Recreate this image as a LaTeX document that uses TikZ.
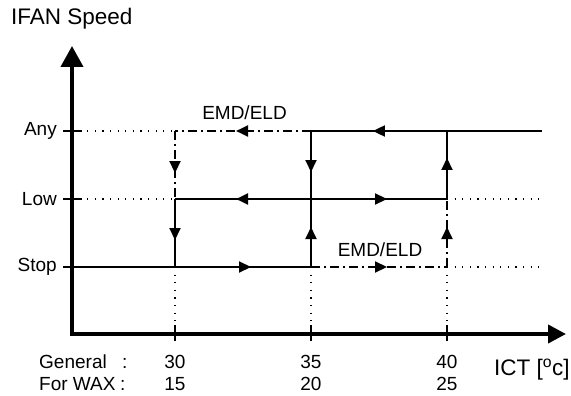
\documentclass[tikz,border=0pt]{standalone}
\usepackage{fontspec}
\setmainfont{Liberation Sans}
\usetikzlibrary{arrows.meta,decorations.markings}
\tikzset{
  lbl/.style={inner sep=0pt, font=\fontsize{19}{21}\selectfont},
  biglbl/.style={inner sep=0pt, font=\fontsize{22.5}{25}\selectfont},
  axisline/.style={line width=4pt, line join=miter},
  graphline/.style={line width=2pt},
  dashdot/.style={line width=2pt, dash pattern=on 9pt off 4pt on 2pt off 4pt},
  dotline/.style={line width=1.1pt, dash pattern=on 1.1pt off 6.5pt},
  tickline/.style={line width=1.3pt},
  arr/.style={postaction={decorate,decoration={markings,
     mark=at position #1 with {\arrow{Triangle[length=12pt,width=11pt]}}}}}
}
\begin{document}
\begin{tikzpicture}[x=1pt,y=-1pt]
\useasboundingbox (0,0) rectangle (571,396);
% key coordinates
\coordinate (o) at (72,334);
\coordinate (ytip) at (72,46);
\coordinate (xtip) at (566,334);
\coordinate (ya) at (72,131);
\coordinate (yl) at (72,199);
\coordinate (ys) at (72,267);
\coordinate (a30) at (175,131);
\coordinate (a35) at (311,131);
\coordinate (a40) at (447,131);
\coordinate (aend) at (542,131);
\coordinate (l30) at (175,199);
\coordinate (l35) at (311,199);
\coordinate (l40) at (447,199);
\coordinate (lend) at (540,199);
\coordinate (s30) at (175,267);
\coordinate (s35) at (311,267);
\coordinate (s40) at (447,267);
\coordinate (send) at (540,267);
\coordinate (x30) at (175,334);
\coordinate (x35) at (311,334);
\coordinate (x40) at (447,334);

% axes
\draw[axisline, {Triangle[length=21pt,width=22pt]}-{Triangle[length=18pt,width=18pt]}] (ytip) -- (o) -- (xtip);

% y ticks
\foreach \c in {ya,yl,ys} \draw[tickline] ([xshift=-9pt]\c) -- ([xshift=10pt]\c);
% x ticks
\foreach \c in {x30,x35,x40} \draw[tickline] ([yshift=-7pt]\c) -- ([yshift=9pt]\c);

% dotted guides
\draw[dotline] (ya) -- (a30);
\draw[dotline] (yl) -- (l30);
\draw[dotline] (l40) -- (lend);
\draw[dotline] (s40) -- (send);
\draw[dotline] (s30) -- (x30);
\draw[dotline] (s35) -- (x35);
\draw[dotline] (s40) -- (x40);

% Any level
\draw[dashdot, arr=0.551] (a35) -- (a30);
\draw[graphline, arr=0.732] (aend) -- (a35);
% Low level
\draw[graphline, arr=0.551] (l35) -- (l30);
\draw[graphline, arr=0.559] (l35) -- (l40);
% Stop level
\draw[graphline, arr=0.749] (ys) -- (s35);
\draw[dashdot, arr=0.559] (s35) -- (s40);
% verticals
\draw[dashdot, arr=0.618] (a30) -- (l30);
\draw[graphline, arr=0.603] (l30) -- (s30);
\draw[graphline, arr=0.603] (a35) -- (l35);
\draw[graphline, arr=0.588] (s35) -- (l35);
\draw[graphline, arr=0.603] (l40) -- (a40);
\draw[dashdot, arr=0.588] (s40) -- (l40);

% labels
\node[biglbl, anchor=base west] (title) at (11,25) {IFAN Speed};
\node[lbl, anchor=east] (lany) at (57,131) {Any};
\node[lbl, anchor=east] (llow) at (57,199) {Low};
\node[lbl, anchor=east] (lstop) at (57,267) {Stop};
\node[lbl, anchor=base] (emd1) at (244.5,120) {EMD/ELD};
\node[lbl, anchor=base] (emd2) at (380,256) {EMD/ELD};
\node[lbl, anchor=base west] (gen) at (39,368) {\makebox[83pt][l]{General}:};
\node[lbl, anchor=base west] (wax) at (39,390) {\makebox[81pt][l]{For WAX}:};
\node[lbl, anchor=base] (n30) at (175,368) {30};
\node[lbl, anchor=base] (n35) at (311,368) {35};
\node[lbl, anchor=base] (n40) at (447,368) {40};
\node[lbl, anchor=base] (n15) at (175,390) {15};
\node[lbl, anchor=base] (n20) at (311,390) {20};
\node[lbl, anchor=base] (n25) at (447,390) {25};
\node[biglbl, anchor=base west] (ict) at (494,375) {ICT [\textsuperscript{o}c]};
\end{tikzpicture}
\end{document}
